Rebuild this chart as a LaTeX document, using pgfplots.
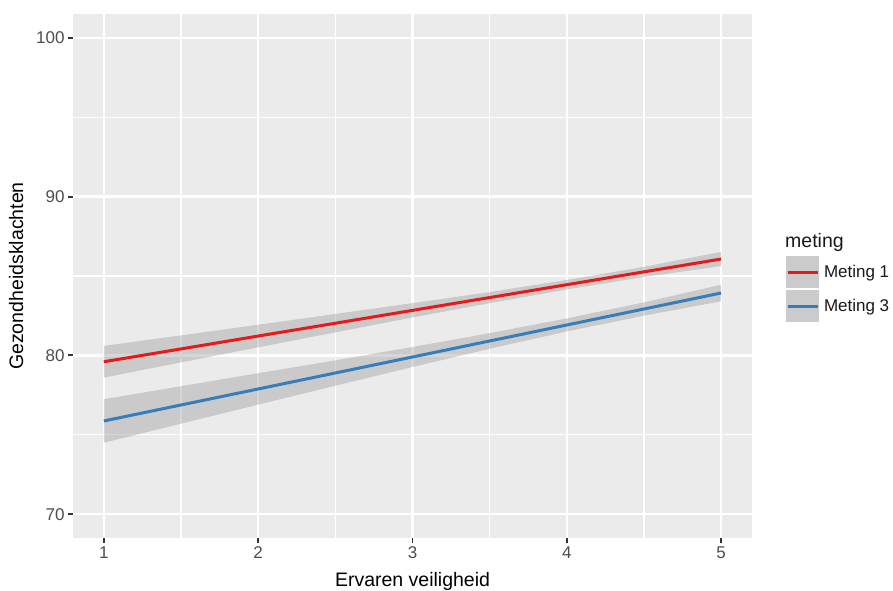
\documentclass[border=0pt]{standalone}
\usepackage{fontspec}
\setmainfont{Liberation Sans}
\usepackage{pgfplots}
\pgfplotsset{compat=1.18}
\definecolor{panel}{HTML}{EBEBEB}
\definecolor{tickc}{HTML}{4D4D4D}
\definecolor{ticklinec}{HTML}{333333}
\definecolor{rline}{HTML}{E41A1C}
\definecolor{bline}{HTML}{377EB8}
\definecolor{rib}{HTML}{999999}
\definecolor{keyfill}{HTML}{CBCBCB}
\begin{document}
\begin{tikzpicture}[x=1pt,y=1pt]
\useasboundingbox (0,0) rectangle (893,590);
\begin{axis}[
  at={(73pt,52pt)}, anchor=south west,
  scale only axis, width=679pt, height=524pt,
  xmin=0.8, xmax=5.2, ymin=68.5, ymax=101.5,
  xtick={1,2,3,4,5}, ytick={70,80,90,100},
  minor xtick={1.5,2.5,3.5,4.5}, minor ytick={75,85,95},
  xtick pos=bottom, ytick pos=left,
  axis background/.style={fill=panel},
  axis line style={draw=none},
  grid=both,
  major grid style={white, line width=2.4pt},
  minor grid style={white, line width=1.2pt},
  tick align=outside,
  major tick length=5pt, minor tick length=0pt,
  tick style={ticklinec, line width=1.8pt},
  ticklabel style={font=\fontsize{17}{20}\selectfont, text=tickc},
  /pgf/number format/assume math mode=true,
  xlabel={Ervaren veiligheid}, ylabel={Gezondheidsklachten},
  every axis x label/.style={at={(axis description cs:0.5,0)}, anchor=base, yshift=-48pt, font=\fontsize{19.5}{23}\selectfont},
  every axis y label/.style={at={(axis description cs:-0.0736,0.5)}, rotate=90, anchor=base, font=\fontsize{19.5}{23}\selectfont},
  legend style={at={(axis description cs:1.0486,0.540)}, anchor=north west, draw=none, fill=none,
    inner sep=0pt, outer sep=0pt, row sep=0pt, column sep=4pt,
    nodes={inner sep=0pt, font=\fontsize{17}{20}\selectfont, text=black!90}},
  legend cell align=left,
  legend image code/.code={
    \path[fill=keyfill, draw=white, line width=1pt] (0pt,-16.5pt) rectangle (34pt,16.5pt);
    \draw[#1, line width=3pt] (2pt,0pt) -- (32pt,0pt);
  },
]
% confidence ribbons
\addplot[draw=none, fill=rib, fill opacity=0.4, forget plot] coordinates {
  (1,80.60) (1.5,81.26) (2,81.93) (2.5,82.61) (3,83.29) (3.5,83.99) (4,84.75) (4.5,85.58) (5,86.52)
  (5,85.62) (4.5,84.94) (4,84.15) (3.5,83.29) (3,82.39) (2.5,81.45) (2,80.51) (1.5,79.56) (1,78.60)
} -- cycle;
\addplot[draw=none, fill=rib, fill opacity=0.4, forget plot] coordinates {
  (1,77.24) (1.5,78.06) (2,78.88) (2.5,79.69) (3,80.53) (3.5,81.40) (4,82.33) (4.5,83.34) (5,84.45)
  (5,83.41) (4.5,82.50) (4,81.51) (3.5,80.42) (3,79.27) (2.5,78.09) (2,76.90) (1.5,75.70) (1,74.50)
} -- cycle;
% fitted lines
\addplot[rline, line width=3pt, no markers] coordinates {(1,79.60) (5,86.07)};
\addlegendentry{Meting 1}
\addplot[bline, line width=3pt, no markers] coordinates {(1,75.87) (5,83.93)};
\addlegendentry{Meting 3}
\end{axis}
\node[anchor=base west, font=\fontsize{19.5}{23}\selectfont, text=black!90, inner sep=0pt] at (785,343) {meting};
\end{tikzpicture}
\end{document}
